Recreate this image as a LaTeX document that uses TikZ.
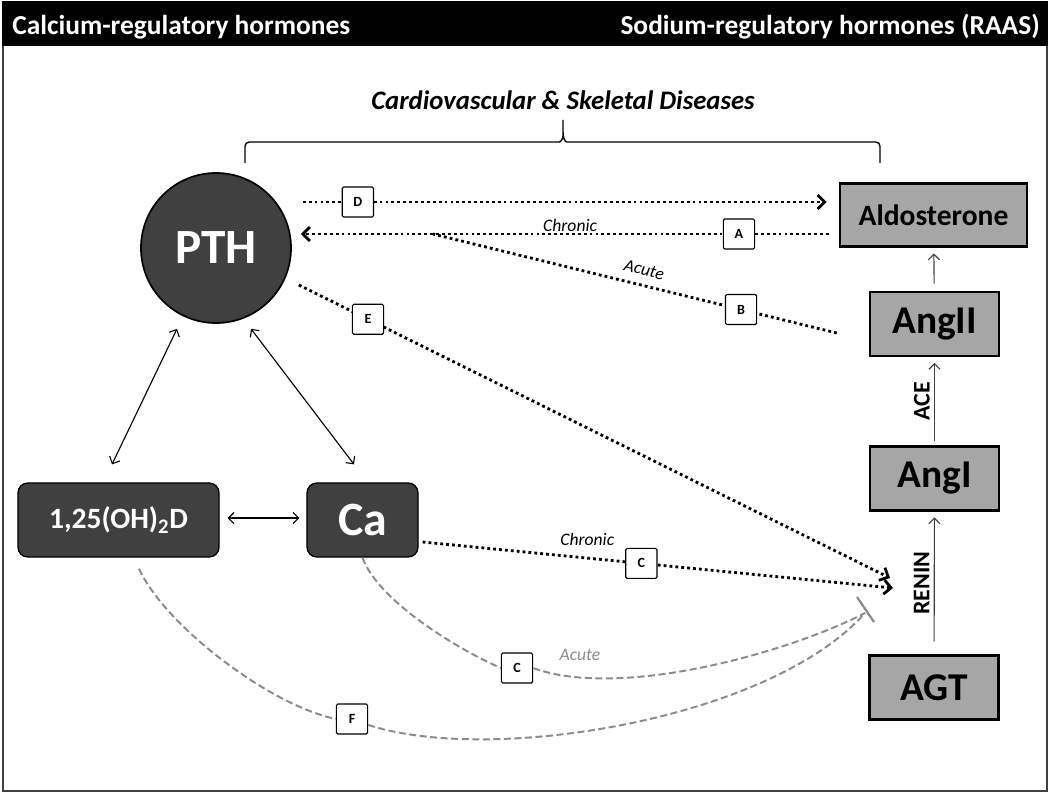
\documentclass[tikz,border=0pt]{standalone}
\usepackage{fontspec}
\setmainfont{Carlito}
\usetikzlibrary{positioning}
\usetikzlibrary{calc}
\usetikzlibrary{arrows.meta}

\definecolor{hormone}{HTML}{404040}
\definecolor{raas}{HTML}{A6A6A6}
\definecolor{acutegray}{HTML}{8C8C8C}
\newcommand{\fsz}[1]{\fontsize{#1}{#1}\selectfont}

\begin{document}
\begin{tikzpicture}[x=0.025cm,y=-0.025cm]
		\tikzset{pthnode/.style = {shape=circle, draw, line width=1.2pt, fill=hormone, text=white, font=\bfseries\fsz{35}, minimum size=3.75cm, inner sep=0pt}}
		\tikzset{calcium/.style = {shape=rectangle, draw, rounded corners=7pt, line width=0.9pt, fill=hormone, text=white, font=\bfseries\fsz{21}, minimum width=5.025cm, minimum height=1.85cm}}
		\tikzset{raasbox/.style = {shape=rectangle, draw, line width=1.8pt, fill=raas, font=\bfseries\fsz{28}, minimum width=3.225cm, minimum height=1.6cm}}
		\tikzset{tag/.style = {shape=rectangle, draw, solid, fill=white, line width=0.8pt, rounded corners=1pt, minimum width=0.78cm, minimum height=0.75cm, inner sep=0pt, font=\bfseries\fsz{10}}}
		\tikzset{note/.style = {font=\itshape\fsz{12.5}, inner sep=1pt}}
		\tikzset{enzyme/.style = {midway, rotate=90, anchor=south, font=\bfseries\fsz{17}, inner sep=3pt}}
		\tikzset{dotline/.style = {line width=2pt, dash pattern=on 2pt off 2.2pt}}
		\tikzset{dotarrow/.style = {dotline, -{Straight Barb[length=5pt,width=10pt]}}}
		\tikzset{twoway/.style = {{Straight Barb[length=4pt,width=8pt]}-{Straight Barb[length=4pt,width=8pt]}, line width=0.8pt}}
		\tikzset{upedge/.style = {-{Straight Barb[length=4pt,width=8pt]}, line width=0.8pt, draw=black!75, shorten >=4pt}}
		\tikzset{grayline/.style = {draw=acutegray, line width=1.4pt, dash pattern=on 5pt off 2.5pt}}
		\tikzset{inhibbar/.style = {draw=acutegray, line width=1.6pt}}
		\tikzset{bartext/.style = {text=white, font=\bfseries\fsz{19.5}, inner sep=0pt}}
		\tikzset{disease/.style = {font=\bfseries\itshape\fsz{19}, inner sep=0pt}}
		\tikzset{brace/.style = {line width=1pt, rounded corners=3pt}}
		\useasboundingbox (0,0) rectangle (1050,794);
		
		% frame and header
		\draw[line width=2pt, black!75] (3,2) rectangle (1047,791);
		\fill[black] (2,1) rectangle (1048,46);
		\node[bartext, anchor=base west] (catitle) at (12,35) {Calcium-regulatory hormones};
		\node[bartext, anchor=base east] (natitle) at (1040,35) {Sodium-regulatory hormones (RAAS)};
		\node[disease, anchor=base] (cvd) at (563,110) {Cardiovascular \& Skeletal Diseases};
		\draw[brace] (245,163) |- (555,142) .. controls (561,142) and (563,138) .. (563,132) -- (563,120)
			(563,132) .. controls (563,138) and (565,142) .. (571,142) -| (880,163);
		
		% hormones
		\node[pthnode] (pth) at (216,248) {PTH};
		\node[calcium] (vitd) at (118.5,520) {1,25(OH)\textsubscript{2}D};
		\node[calcium, minimum width=2.775cm, font=\bfseries\fsz{34}] (ca) at (362.5,520) {Ca};
		
		\node[raasbox, minimum width=4.675cm, minimum height=1.575cm, font=\bfseries\fsz{21}] (ald) at (933.5,215) {Aldosterone};
		\node[raasbox] (ang2) at (934.5,324) {AngII};
		\node[raasbox] (ang1) at (934.5,478.5) {AngI};
		\node[raasbox] (agt) at (934,687.5) {AGT};
		
		%edges
		\draw[upedge, shorten <=9pt] (agt) -- node[enzyme]{RENIN} (ang1);
		\draw[upedge, shorten <=3pt] (ang1) -- node[enzyme]{ACE} (ang2);
		\draw[upedge, shorten <=5pt] (ang2) -- (ald);
		
		\draw[twoway] ($(pth.south)+(-39,5)$) -- ($(vitd.north)+(-6.5,-18)$);
		\draw[twoway] ($(pth.south)+(35,5)$) -- ($(ca.north)+(-8.5,-18)$);
		\draw[twoway] ($(vitd.east)+(8,-2)$) -- ($(ca.west)+(-7,-2)$);
		
		\coordinate (ajoin) at (433,234);
		\coordinate (reninE) at (890,578);
		\coordinate (reninC) at (893,588);
		\coordinate (inhib) at (865,613);
		
		\draw[dotarrow] ($(pth.east)+(11,-46)$) -- node[tag, pos=0.105]{D} ($(ald.west)+(-12,-13)$);
		\draw[dotarrow] ($(ald.west)+(-10,19)$) -- node[tag, pos=0.17]{A} node[note, above, pos=0.49]{Chronic} ($(pth.east)+(9,-14)$);
		\draw[dotline] ($(ang2.west)+(-32,9)$) -- node[tag, pos=0.237]{B} node[note, sloped, above=5pt, pos=0.486]{Acute} (ajoin);
		\draw[dotarrow] ($(pth.east)+(7,37)$) -- node[tag, pos=0.117]{E} (reninE);
		\draw[dotarrow] ($(ca.east)+(4,22)$) -- node[tag, pos=0.465]{C} node[note, above=7pt, pos=0.35]{Chronic} (reninC);
		
		% acute inhibition of renin
		\node[tag] (cacute) at (517,668) {C};
		\node[tag] (f) at (352,719) {F};
		\node[note, text=acutegray] (acute) at (580,655) {Acute};
		\draw[grayline] (ca.south) .. controls +(15,42) and +(-46,-20) .. (cacute.west);
		\draw[grayline] (cacute.east) .. controls +(87,32) and +(-75,39) .. (inhib);
		\draw[grayline] ($(vitd.south)+(20.5,11)$) .. controls +(26,57) and +(-66.5,-14) .. (f.west);
		\draw[grayline] (f.-20) .. controls +(122,40) and +(-95,107) .. (inhib);
		\draw[inhibbar] ($(inhib)+(-8,-16)$) -- ($(inhib)+(9,9)$);
		
\end{tikzpicture}
\end{document}
